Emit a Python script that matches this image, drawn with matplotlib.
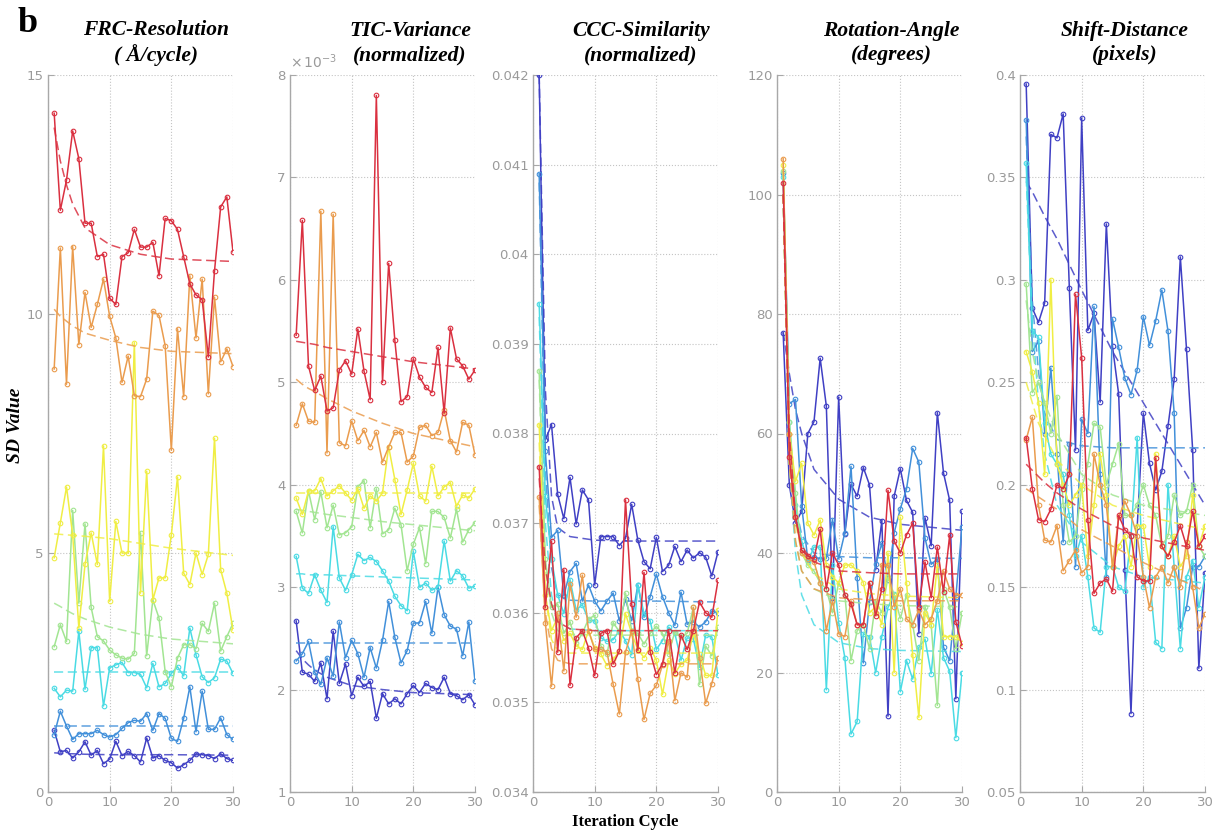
import numpy as np
import matplotlib.pyplot as plt
from matplotlib.ticker import FormatStrFormatter, FuncFormatter

# iteration cycles 1..30
cycles = list(range(1, 31))
fit_x = [1, 2, 3, 4, 6, 10, 15, 20, 30]

# ---- FRC-Resolution (A/cycle)
frc_dblue = [1.29,0.84,0.87,0.71,0.84,1.05,0.77,0.87,0.59,0.69,1.06,0.76,0.85,0.76,0.63,1.13,0.71,0.76,0.66,0.61,0.50,0.57,0.66,0.80,0.78,0.76,0.70,0.80,0.70,0.66]
frc_blue = [1.20,1.69,1.38,1.10,1.22,1.22,1.22,1.29,1.20,1.15,1.20,1.33,1.45,1.50,1.48,1.64,1.29,1.64,1.54,1.12,1.06,1.54,2.20,1.26,2.11,1.31,1.31,1.55,1.20,1.10]
frc_cyan = [2.17,1.99,2.13,2.11,3.36,2.15,3.02,3.02,1.80,2.60,2.66,2.71,2.50,2.50,2.46,2.18,2.69,2.20,2.27,2.48,2.62,2.43,3.43,2.87,2.41,2.29,2.39,2.78,2.74,2.48]
frc_green = [3.04,3.50,3.15,5.89,3.95,5.61,3.86,3.25,3.16,2.97,2.87,2.80,2.78,2.90,5.42,2.85,4.02,3.64,2.52,2.20,2.80,3.08,3.08,3.00,3.53,3.36,3.95,2.95,3.25,3.53]
frc_yellow = [4.90,5.63,6.38,5.38,3.43,4.76,5.42,4.76,7.24,3.99,5.66,5.00,5.00,9.40,4.16,6.71,4.02,4.48,4.48,5.38,6.59,4.58,4.34,5.00,4.55,4.97,7.40,4.65,4.16,3.39]
frc_orange = [8.85,11.38,8.53,11.41,9.36,10.45,9.72,10.20,10.73,9.95,9.50,8.57,9.12,8.29,8.27,8.64,10.06,9.97,9.34,7.15,9.69,8.27,10.80,9.50,10.73,8.33,10.35,9.00,9.27,8.90]
frc_red = [14.2,12.17,12.8,13.83,13.25,11.9,11.9,11.2,11.25,10.33,10.2,11.2,11.28,11.77,11.4,11.4,11.5,10.8,12.0,11.95,11.77,11.2,10.63,10.4,10.3,9.1,10.9,12.24,12.45,11.3]
frc_dblue_fit = [0.82,0.81,0.80,0.80,0.79,0.78,0.78,0.78,0.77]
frc_blue_fit = [1.38,1.38,1.38,1.38,1.38,1.38,1.38,1.38,1.38]
frc_cyan_fit = [2.52,2.52,2.52,2.52,2.52,2.52,2.52,2.52,2.52]
frc_green_fit = [3.95,3.88,3.80,3.73,3.62,3.45,3.30,3.20,3.10]
frc_yellow_fit = [5.40,5.39,5.38,5.37,5.35,5.30,5.20,5.10,4.95]
frc_orange_fit = [10.1,9.95,9.85,9.75,9.60,9.45,9.30,9.22,9.17]
frc_red_fit = [13.9,13.2,12.7,12.3,11.8,11.45,11.25,11.15,11.1]

# ---- TIC-Variance (x 1e-3)
tic_dblue = [2.67,2.17,2.15,2.08,2.26,1.91,2.57,2.06,2.25,1.94,2.12,2.03,2.08,1.72,1.96,1.86,1.91,1.86,1.96,2.04,1.97,2.06,2.02,2.00,2.12,1.96,1.94,1.90,1.95,1.85]
tic_blue = [2.28,2.35,2.47,2.17,2.05,2.31,2.13,2.66,2.31,2.48,2.35,2.12,2.41,2.21,2.48,2.86,2.51,2.26,2.38,2.65,2.65,2.86,2.55,3.00,2.73,2.62,2.59,2.33,2.66,2.08]
tic_cyan = [3.30,2.99,2.94,3.12,2.97,2.85,3.59,3.09,2.97,3.12,3.32,3.26,3.29,3.25,3.16,3.06,2.91,2.82,2.77,3.35,3.00,3.04,2.97,3.00,3.45,3.06,3.16,3.11,2.99,3.01]
tic_green = [3.74,3.53,3.94,3.66,3.93,3.58,3.80,3.51,3.53,3.59,3.98,4.04,3.58,3.96,3.52,3.56,3.77,3.61,3.16,3.42,3.58,3.23,3.74,3.74,3.68,3.48,3.76,3.44,3.56,3.63]
tic_yellow = [3.87,3.71,3.94,3.94,4.06,3.89,3.94,3.99,3.92,3.85,3.96,3.77,3.89,3.84,3.92,4.37,4.05,3.71,3.95,4.21,3.89,3.84,4.18,3.89,3.98,4.02,3.79,3.90,3.87,3.96]
tic_orange = [4.58,4.79,4.62,4.61,6.67,4.31,6.64,4.41,4.38,4.62,4.43,4.53,4.37,4.51,4.22,4.37,4.51,4.51,4.22,4.28,4.56,4.58,4.48,4.51,4.73,4.43,4.32,4.61,4.58,4.29]
tic_red = [5.46,6.58,5.16,4.92,5.06,4.72,4.75,5.12,5.21,5.08,5.52,5.11,4.83,7.80,5.00,6.16,5.41,4.81,4.86,5.23,5.05,4.95,4.90,5.34,4.70,5.53,5.23,5.16,5.03,5.12]
tic_dblue_fit = [2.38,2.30,2.24,2.19,2.12,2.04,2.00,1.97,1.95]
tic_blue_fit = [2.45,2.45,2.45,2.45,2.45,2.45,2.45,2.45,2.45]
tic_cyan_fit = [3.13,3.13,3.12,3.12,3.12,3.11,3.10,3.09,3.07]
tic_green_fit = [3.76,3.75,3.74,3.73,3.71,3.68,3.64,3.61,3.55]
tic_yellow_fit = [3.92,3.92,3.92,3.92,3.92,3.92,3.92,3.92,3.92]
tic_orange_fit = [5.03,4.98,4.94,4.91,4.84,4.72,4.60,4.50,4.37]
tic_red_fit = [5.40,5.39,5.38,5.37,5.34,5.30,5.25,5.20,5.13]

# ---- CCC-Similarity
ccc_dblue = [0.0420,0.03793,0.0381,0.03732,0.03705,0.03751,0.03699,0.03737,0.03726,0.03631,0.03685,0.03685,0.03685,0.03675,0.03683,0.03721,0.03681,0.03657,0.03649,0.03684,0.03646,0.03653,0.03674,0.03657,0.0367,0.03661,0.03667,0.03662,0.03641,0.03668]
ccc_blue = [0.0409,0.0378,0.03684,0.03692,0.03619,0.03646,0.03655,0.03613,0.03631,0.03613,0.03602,0.03613,0.03622,0.03591,0.03615,0.03591,0.03631,0.03595,0.03618,0.03643,0.03618,0.0360,0.03586,0.03623,0.03587,0.0359,0.03584,0.0359,0.03602,0.0360]
ccc_cyan = [0.03945,0.0373,0.0366,0.0362,0.03599,0.03637,0.03603,0.03609,0.03592,0.03591,0.03572,0.03568,0.0357,0.0358,0.03569,0.03553,0.03631,0.03599,0.03591,0.03559,0.03569,0.03584,0.03577,0.03547,0.03572,0.03571,0.03539,0.03575,0.03573,0.0353]
ccc_green = [0.0387,0.0366,0.03606,0.0361,0.03577,0.0359,0.03566,0.03577,0.03593,0.03597,0.03563,0.03554,0.03589,0.03579,0.03622,0.0358,0.03577,0.03565,0.03577,0.03585,0.03577,0.03554,0.03579,0.03573,0.03577,0.03606,0.0352,0.03563,0.03552,0.03584]
ccc_yellow = [0.0381,0.0362,0.0358,0.03595,0.03569,0.03577,0.03563,0.03559,0.0358,0.03561,0.03554,0.03541,0.03548,0.03557,0.03599,0.03577,0.03559,0.0355,0.03561,0.03547,0.03509,0.03547,0.03532,0.03543,0.03547,0.03577,0.03554,0.0353,0.0353,0.03603]
ccc_orange = [0.03729,0.03589,0.03518,0.036,0.03535,0.03632,0.03595,0.03642,0.0358,0.03559,0.03559,0.03556,0.0352,0.03487,0.03556,0.0358,0.03526,0.03481,0.0351,0.03519,0.03542,0.03569,0.03502,0.03533,0.03528,0.03606,0.0355,0.03499,0.03521,0.0355]
ccc_red = [0.03763,0.03606,0.0368,0.03556,0.03648,0.03519,0.03572,0.0358,0.03561,0.0353,0.03577,0.0358,0.03543,0.03557,0.03726,0.0361,0.03558,0.03645,0.03556,0.03531,0.03543,0.0358,0.03533,0.03575,0.03559,0.0358,0.03612,0.036,0.03595,0.03636]
ccc_dblue_fit = [0.0420,0.0385,0.0373,0.03695,0.03685,0.03681,0.0368,0.0368,0.0368]
ccc_blue_fit = [0.0408,0.0376,0.0365,0.0362,0.03614,0.03613,0.03613,0.03613,0.03612]
ccc_cyan_fit = [0.0393,0.0370,0.0362,0.0359,0.03582,0.0358,0.0358,0.0358,0.0358]
ccc_green_fit = [0.0386,0.0365,0.0360,0.0358,0.03576,0.03575,0.03575,0.03575,0.03575]
ccc_yellow_fit = [0.0379,0.0362,0.0357,0.03558,0.03555,0.03555,0.03555,0.03555,0.03555]
ccc_orange_fit = [0.0372,0.0360,0.0356,0.03547,0.03543,0.03543,0.03543,0.03543,0.03543]
ccc_red_fit = [0.0375,0.0365,0.0361,0.0359,0.03582,0.0358,0.0358,0.0358,0.0358]

# ---- Rotation-Angle (degrees)
rot_dblue = [76.8,51.4,45.0,47.0,60.0,62.0,72.6,64.6,32.5,66.1,43.2,51.5,49.5,54.3,51.4,37.2,45.4,12.7,49.5,54.1,48.8,46.8,26.5,45.9,41.2,63.5,53.4,48.8,15.6,47.0]
rot_blue = [103.6,65.0,65.7,47.9,38.8,39.4,39.0,39.1,45.6,39.0,43.4,54.5,35.8,21.6,31.8,38.1,41.6,35.4,43.4,47.4,50.7,57.5,55.2,42.5,38.1,39.0,24.2,22.0,32.7,44.3]
rot_cyan = [103.0,62.0,48.0,42.0,38.5,41.0,41.0,17.1,38.0,28.3,22.5,9.7,11.8,26.5,26.0,20.0,26.0,30.9,33.2,16.8,22.0,18.9,24.2,25.6,19.8,30.5,22.5,20.2,9.1,20.0]
rot_green = [104,62,50,40,38,37,35,34,30,35,33,22,27,28,24,32,30,36,33,29,33,28,22,31,28,14.5,34,31,24,30]
rot_yellow = [105,60,52,55,45,43,45.5,38,36,35,38,38,37,35,30,31,28,40,20,46,35,23,12.5,30,28,38,26,26,26,25]
rot_orange = [106,60,46,40,39,38.5,35,27,32,26.5,26,32,28,28,35,30,38,38,31,34,29,28,30.5,28,29,32,37,34,33,33]
rot_red = [102,56,46,40.5,39.5,39,44,34,40,38,33,31.5,28,28,35,29.5,34,50.5,42,40,43,45,31,38.5,32.5,41,33.5,43,28.5,24.5]
rot_dblue_fit = [77,70,64,60,54,49,46,44.8,43.8]
rot_blue_fit = [100,60,48,43,40,39.4,39.2,39.2,39.1]
rot_cyan_fit = [100,55,40,33,28,25,24,23.7,23.5]
rot_green_fit = [100,55,42,37,34,32,31.5,31.2,31]
rot_yellow_fit = [100,55,45,40,36.5,34,33.2,32.8,32.5]
rot_orange_fit = [100,55,42,37,34,32.5,32.2,32,32]
rot_red_fit = [100,60,46,41,38.5,37,36.7,36.5,36.5]

# ---- Shift-Distance (pixels)
shift_dblue = [0.3956,0.2862,0.2792,0.2888,0.371,0.3693,0.381,0.2961,0.2169,0.379,0.2753,0.2836,0.2403,0.3273,0.2675,0.2442,0.1584,0.0883,0.1792,0.235,0.2104,0.1974,0.2065,0.2286,0.2514,0.3112,0.2662,0.2169,0.1104,0.1571]
shift_blue = [0.378,0.265,0.27,0.225,0.257,0.215,0.172,0.22,0.16,0.232,0.225,0.287,0.205,0.155,0.281,0.267,0.252,0.244,0.256,0.282,0.268,0.28,0.295,0.275,0.235,0.13,0.14,0.16,0.16,0.165]
shift_cyan = [0.357,0.275,0.272,0.23,0.215,0.21,0.205,0.185,0.165,0.175,0.155,0.13,0.128,0.16,0.16,0.15,0.148,0.175,0.223,0.15,0.155,0.123,0.12,0.2,0.16,0.12,0.155,0.163,0.14,0.155]
shift_green = [0.298,0.245,0.25,0.24,0.225,0.243,0.19,0.172,0.175,0.198,0.21,0.23,0.228,0.2,0.21,0.22,0.185,0.185,0.19,0.2,0.19,0.185,0.17,0.175,0.195,0.185,0.187,0.2,0.17,0.165]
shift_yellow = [0.265,0.255,0.24,0.205,0.3,0.21,0.2,0.19,0.195,0.2,0.165,0.19,0.215,0.195,0.16,0.17,0.175,0.16,0.18,0.18,0.16,0.215,0.17,0.165,0.175,0.16,0.165,0.195,0.17,0.18]
shift_orange = [0.222,0.233,0.19,0.173,0.172,0.18,0.158,0.163,0.168,0.157,0.16,0.215,0.2,0.19,0.16,0.184,0.192,0.185,0.175,0.155,0.14,0.155,0.16,0.152,0.16,0.15,0.172,0.15,0.13,0.137]
shift_red = [0.223,0.198,0.183,0.182,0.188,0.2,0.198,0.205,0.293,0.262,0.183,0.147,0.152,0.154,0.148,0.185,0.178,0.175,0.155,0.153,0.153,0.213,0.17,0.165,0.172,0.18,0.17,0.187,0.17,0.175]
shift_dblue_fit = [0.348,0.343,0.337,0.331,0.32,0.295,0.265,0.24,0.19]
shift_blue_fit = [0.37,0.29,0.255,0.235,0.222,0.219,0.218,0.218,0.218]
shift_cyan_fit = [0.35,0.28,0.24,0.215,0.19,0.172,0.16,0.155,0.152]
shift_green_fit = [0.29,0.265,0.25,0.24,0.225,0.205,0.195,0.19,0.185]
shift_yellow_fit = [0.25,0.24,0.23,0.224,0.212,0.2,0.19,0.185,0.178]
shift_orange_fit = [0.198,0.196,0.194,0.192,0.188,0.178,0.17,0.162,0.148]
shift_red_fit = [0.21,0.207,0.204,0.201,0.196,0.188,0.18,0.174,0.168]

colors = ['#4040c4', '#4290da', '#4adbe4', '#a2e592', '#f0ee44', '#ea9c4e', '#da3040']

titles = ['FRC-Resolution\n( Å/cycle)', 'TIC-Variance\n(normalized)', 'CCC-Similarity\n(normalized)',
          'Rotation-Angle\n(degrees)', 'Shift-Distance\n(pixels)']
title_x = [156, 410, 641, 891, 1125]

panels = [
    ([frc_dblue, frc_blue, frc_cyan, frc_green, frc_yellow, frc_orange, frc_red],
     [frc_dblue_fit, frc_blue_fit, frc_cyan_fit, frc_green_fit, frc_yellow_fit, frc_orange_fit, frc_red_fit],
     (0, 15), [0, 5, 10, 15]),
    ([tic_dblue, tic_blue, tic_cyan, tic_green, tic_yellow, tic_orange, tic_red],
     [tic_dblue_fit, tic_blue_fit, tic_cyan_fit, tic_green_fit, tic_yellow_fit, tic_orange_fit, tic_red_fit],
     (1, 8), [1, 2, 3, 4, 5, 6, 7, 8]),
    ([ccc_dblue, ccc_blue, ccc_cyan, ccc_green, ccc_yellow, ccc_orange, ccc_red],
     [ccc_dblue_fit, ccc_blue_fit, ccc_cyan_fit, ccc_green_fit, ccc_yellow_fit, ccc_orange_fit, ccc_red_fit],
     (0.034, 0.042), [0.034, 0.035, 0.036, 0.037, 0.038, 0.039, 0.040, 0.041, 0.042]),
    ([rot_dblue, rot_blue, rot_cyan, rot_green, rot_yellow, rot_orange, rot_red],
     [rot_dblue_fit, rot_blue_fit, rot_cyan_fit, rot_green_fit, rot_yellow_fit, rot_orange_fit, rot_red_fit],
     (0, 120), [0, 20, 40, 60, 80, 100, 120]),
    ([shift_dblue, shift_blue, shift_cyan, shift_green, shift_yellow, shift_orange, shift_red],
     [shift_dblue_fit, shift_blue_fit, shift_cyan_fit, shift_green_fit, shift_yellow_fit, shift_orange_fit, shift_red_fit],
     (0.05, 0.4), [0.05, 0.1, 0.15, 0.2, 0.25, 0.3, 0.35, 0.4]),
]

W, H = 1225, 833
fig = plt.figure(figsize=(W / 100, H / 100), dpi=100)
lefts = [48, 290, 533, 777, 1020]
serif = 'Liberation Serif'
tickgray = '#9a9a9a'

for i, (series, fits, ylim, yt) in enumerate(panels):
    ax = fig.add_axes([lefts[i] / W, 1 - 792 / H, 185 / W, (792 - 75) / H])
    for s, f, c in zip(series, fits, colors):
        ax.plot(fit_x, f, '--', color=c, lw=1.1, alpha=0.85, dashes=(6, 3))
        ax.plot(cycles, s, '-', color=c, lw=1.1, marker='o', ms=3.3, mfc='none', mew=0.8)
    ax.set_xlim(0, 30)
    ax.set_ylim(*ylim)
    ax.set_xticks([0, 10, 20, 30])
    ax.set_yticks(yt)
    ax.yaxis.set_major_formatter(FuncFormatter(lambda v, p: '%g' % round(v, 4)))
    ax.grid(True, ls=':', color='#c4c4c4', lw=0.8)
    for side in ['top', 'right']:
        ax.spines[side].set_visible(False)
    for side in ['left', 'bottom']:
        ax.spines[side].set_color('#a8a8a8')
        ax.spines[side].set_linewidth(1.0)
    ax.tick_params(direction='in', length=4, color='#a8a8a8', labelcolor=tickgray,
                   labelsize=9.5, pad=3)
    fig.text(title_x[i] / W, 1 - 43 / H, titles[i], ha='center', va='center',
             fontfamily=serif, fontweight='bold', fontstyle='italic', fontsize=15.5,
             linespacing=1.3)
    if i == 1:
        ax.text(0.0, 1.005, r'$\times\,10^{-3}$', transform=ax.transAxes, ha='left', va='bottom',
                color=tickgray, fontsize=10)

fig.text(18 / W, 1 - 23 / H, 'b', ha='left', va='center', fontfamily=serif,
         fontweight='bold', fontsize=26)
fig.text(15 / W, 1 - 425 / H, 'SD Value', rotation=90, ha='center', va='center',
         fontfamily=serif, fontweight='bold', fontstyle='italic', fontsize=14)
fig.text(625 / W, 1 - 822 / H, 'Iteration Cycle', ha='center', va='center',
         fontfamily=serif, fontweight='bold', fontsize=12)

fig.savefig('out.png', dpi=100)
